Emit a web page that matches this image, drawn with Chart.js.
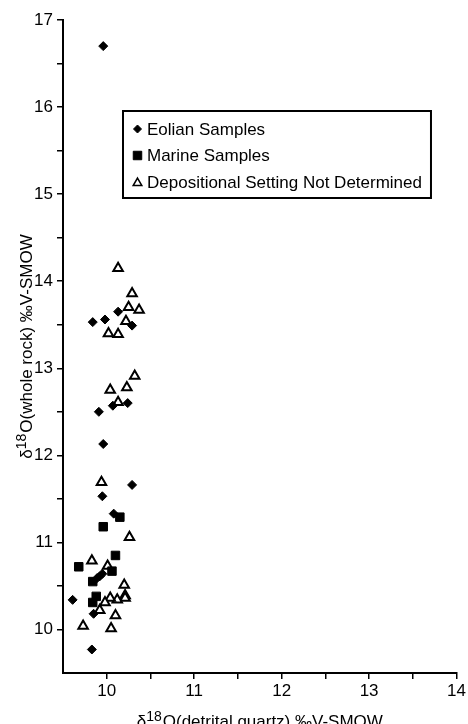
<!DOCTYPE html>
<html lang="en">
  <head>
    <meta charset="UTF-8" />
    <title>d18O whole rock vs detrital quartz</title>
    <script src="https://cdn.jsdelivr.net/npm/chart.js@4.4.0/dist/chart.umd.min.js"></script>
    <style>
      body { margin: 0; background: #fff; }
      .wrap { position: relative; width: 468px; height: 724px; }
    </style>
  </head>
  <body>
    <div class="wrap"><canvas id="myChart"></canvas></div>
    <script>
      // values
      let eolianX = [9.96, 9.84, 9.98, 10.13, 10.29, 9.91, 10.07, 10.24, 9.96, 10.29, 9.95, 10.08, 9.89, 9.92, 9.95, 9.61, 9.85, 9.83];
      let eolianY = [16.70, 13.53, 13.56, 13.65, 13.49, 12.50, 12.57, 12.60, 12.13, 11.66, 11.53, 11.33, 10.59, 10.61, 10.64, 10.34, 10.18, 9.77];

      let marineX = [10.15, 9.96, 10.10, 9.68, 10.06, 9.84, 9.88, 9.84];
      let marineY = [11.29, 11.18, 10.85, 10.72, 10.67, 10.55, 10.38, 10.31];

      let depositX = [10.13, 10.29, 10.25, 10.37, 10.22, 10.02, 10.13, 10.32, 10.04, 10.23, 10.13, 9.94, 10.26, 9.83, 10.01, 10.20, 10.21, 10.21, 10.12, 10.04, 9.98, 9.92, 10.10, 9.73, 10.05];
      let depositY = [14.15, 13.86, 13.70, 13.67, 13.54, 13.40, 13.39, 12.91, 12.75, 12.78, 12.61, 11.69, 11.06, 10.79, 10.73, 10.51, 10.39, 10.36, 10.34, 10.36, 10.31, 10.22, 10.16, 10.04, 10.01];

      let seriesLabels = ["Eolian Samples", "Marine Samples", "Depositional Setting Not Determined"];
      let xTitle = ["δ", "18", "O(detrital quartz) ‰V-SMOW"];
      let yTitle = ["δ", "18", "O(whole rock) ‰V-SMOW"];

      const FONT = "'Liberation Sans', Arial, sans-serif";

      function toPoints(xs, ys) {
        return xs.map((x, i) => ({ x: x, y: ys[i] }));
      }

      // draws "δ" + raised "18" + rest, centred on (0,0) baseline
      function drawSupTitle(ctx, parts) {
        let base = "17px " + FONT;
        let sup = "14px " + FONT;
        ctx.font = base;
        let w0 = ctx.measureText(parts[0]).width;
        let w2 = ctx.measureText(parts[2]).width;
        ctx.font = sup;
        let w1 = ctx.measureText(parts[1]).width + 1;
        let x = -(w0 + w1 + w2) / 2;
        ctx.textAlign = "left";
        ctx.textBaseline = "alphabetic";
        ctx.fillStyle = "#000";
        ctx.font = base;
        ctx.fillText(parts[0], x, 0);
        ctx.font = sup;
        ctx.fillText(parts[1], x + w0, -6);
        ctx.font = base;
        ctx.fillText(parts[2], x + w0 + w1, 0);
      }

      let titlePlugin = {
        id: "titles",
        afterDraw(chart) {
          let ctx = chart.ctx;
          let area = chart.chartArea;
          ctx.save();
          ctx.translate((area.left + area.right) / 2, 727);
          drawSupTitle(ctx, xTitle);
          ctx.restore();

          ctx.save();
          ctx.translate(32, (area.top + area.bottom) / 2);
          ctx.rotate(-Math.PI / 2);
          drawSupTitle(ctx, yTitle);
          ctx.restore();
        },
      };

      let legendSizes = [4, 6, 5];
      let legendPlugin = {
        id: "boxLegend",
        afterDatasetsDraw(chart) {
          let ctx = chart.ctx;
          let sets = chart.data.datasets;
          ctx.save();
          ctx.font = "17px " + FONT;
          let maxW = Math.max(...sets.map((d) => ctx.measureText(d.label).width));
          let left = 123, top = 111, rowH = 26.5;
          let w = 24 + maxW + 9, h = 87;
          ctx.fillStyle = "#fff";
          ctx.fillRect(left, top, w, h);
          ctx.lineWidth = 2;
          ctx.strokeStyle = "#000";
          ctx.strokeRect(left, top, w, h);
          sets.forEach((ds, i) => {
            let cy = top + 18 + i * rowH;
            ctx.fillStyle = ds.backgroundColor;
            ctx.strokeStyle = "#000";
            ctx.lineWidth = i === 2 ? 1.5 : 1;
            Chart.helpers.drawPoint(ctx, { pointStyle: ds.pointStyle, radius: legendSizes[i], borderWidth: 1, rotation: 0 }, left + 14.5, cy + (i === 2 ? 1 : 0));
            ctx.fillStyle = "#000";
            ctx.textAlign = "left";
            ctx.textBaseline = "middle";
            ctx.fillText(ds.label, left + 24, cy + 1);
          });
          ctx.restore();
        },
      };

      function tickColor(c) {
        return c.tick && c.tick.value === 9.5 ? "rgba(0,0,0,0)" : "#000";
      }

      function intLabel(v) {
        return Number.isInteger(v) ? String(v) : "";
      }

      var chart = new Chart("myChart", {
        type: "scatter",
        data: {
          datasets: [
            {
              label: seriesLabels[0],
              data: toPoints(eolianX, eolianY),
              pointStyle: "rectRot",
              pointRadius: 4.5,
              backgroundColor: "#000",
              borderColor: "#000",
              borderWidth: 1,
            },
            {
              label: seriesLabels[1],
              data: toPoints(marineX, marineY),
              pointStyle: "rect",
              pointRadius: 6,
              backgroundColor: "#000",
              borderColor: "#000",
              borderWidth: 1,
            },
            {
              label: seriesLabels[2],
              data: toPoints(depositX, depositY),
              pointStyle: "triangle",
              pointRadius: 5.5,
              backgroundColor: "#fff",
              borderColor: "#000",
              borderWidth: 2,
            },
          ],
        },
        options: {
          responsive: true,
          maintainAspectRatio: false,
          animation: false,
          layout: { padding: { top: 20, right: 0, left: 0, bottom: 0 } },
          plugins: { legend: { display: false }, tooltip: { enabled: false } },
          scales: {
            x: {
              type: "linear",
              min: 9.5,
              max: 14,
              afterFit(s) { s.height = 51; },
              ticks: { stepSize: 0.5, autoSkip: false, maxRotation: 0, color: "#000", padding: 2, font: { family: FONT, size: 17 }, callback: intLabel },
              grid: { drawOnChartArea: false, drawTicks: true, tickLength: 6, lineWidth: 1.5, color: tickColor },
              border: { display: true, color: "#000", width: 2 },
            },
            y: {
              type: "linear",
              min: 9.5,
              max: 17,
              afterFit(s) { s.width = 63; },
              ticks: { stepSize: 0.5, autoSkip: false, color: "#000", padding: 4, font: { family: FONT, size: 17 }, callback: intLabel },
              grid: { drawOnChartArea: false, drawTicks: true, tickLength: 6, lineWidth: 1.5, color: tickColor },
              border: { display: true, color: "#000", width: 2 },
            },
          },
        },
        plugins: [titlePlugin, legendPlugin],
      });
    </script>
  </body>
</html>
